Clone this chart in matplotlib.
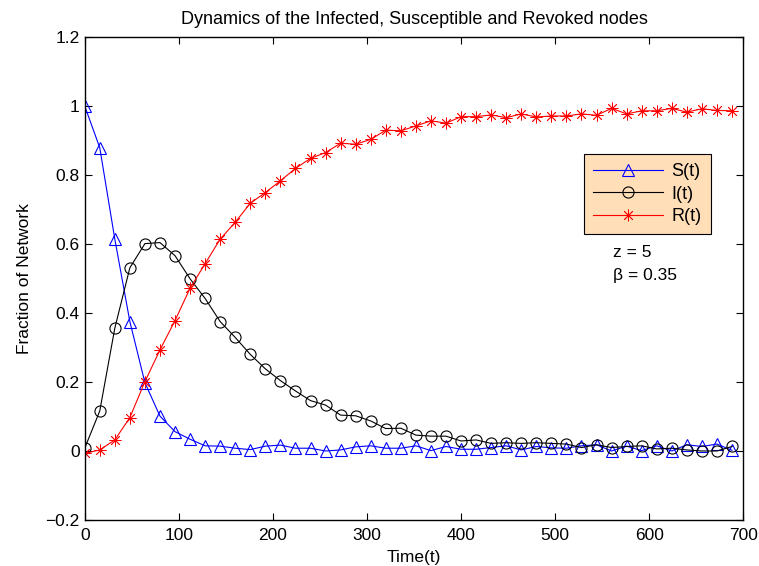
import numpy as np
import matplotlib
matplotlib.use('Agg')
import matplotlib.pyplot as plt

plt.rcParams['font.family'] = ['Liberation Sans', 'DejaVu Sans']

t = np.arange(0, 689, 16)

S = [1.0, 0.879, 0.614, 0.375, 0.198, 0.101, 0.056, 0.034, 0.015, 0.014,
     0.008, 0.004, 0.014, 0.017, 0.008, 0.008, 0.0, 0.003, 0.012, 0.015,
     0.008, 0.008, 0.015, 0.001, 0.013, 0.005, 0.005, 0.010, 0.015, 0.003,
     0.013, 0.009, 0.008, 0.015, 0.018, 0.0, 0.014, 0.001, 0.015, 0.0,
     0.018, 0.013, 0.020, 0.002]

I = [0.008, 0.116, 0.356, 0.531, 0.601, 0.604, 0.566, 0.499, 0.442, 0.375,
     0.329, 0.280, 0.238, 0.204, 0.174, 0.146, 0.133, 0.104, 0.102, 0.087,
     0.065, 0.066, 0.046, 0.043, 0.043, 0.029, 0.032, 0.022, 0.024, 0.022,
     0.024, 0.022, 0.020, 0.010, 0.018, 0.010, 0.013, 0.015, 0.006, 0.008,
     0.003, 0.0, 0.0, 0.013]

R = [-0.007, 0.003, 0.032, 0.097, 0.201, 0.293, 0.378, 0.472, 0.543, 0.614,
     0.663, 0.718, 0.749, 0.783, 0.819, 0.848, 0.865, 0.892, 0.889, 0.903,
     0.930, 0.928, 0.942, 0.957, 0.950, 0.969, 0.969, 0.974, 0.966, 0.977,
     0.968, 0.971, 0.971, 0.977, 0.973, 0.993, 0.977, 0.986, 0.986, 0.993,
     0.982, 0.992, 0.987, 0.986]

fig = plt.figure(figsize=(7.59, 5.66), dpi=100)
ax = fig.add_axes([0.1116, 0.0813, 0.8677, 0.8534])

ax.plot(t, S, color='b', marker='^', lw=0.8, ms=9, mfc='none', mew=0.8, label='S(t)')
ax.plot(t, I, color='k', marker='o', lw=0.8, ms=8, mfc='none', mew=0.8, label='I(t)')
ax.plot(t, R, color='r', marker=(8, 2, 0), lw=0.8, ms=8.5, mew=0.6, label='R(t)')

ax.set_xlim(0, 700)
ax.set_ylim(-0.2, 1.2)
ax.set_xticks(range(0, 701, 100))
ax.set_yticks([-0.2, 0, 0.2, 0.4, 0.6, 0.8, 1.0, 1.2])
ax.set_yticklabels(['\u22120.2', '0', '0.2', '0.4', '0.6', '0.8', '1', '1.2'])
ax.tick_params(direction='in', top=True, right=True, labelsize=12.5, length=5)
ax.tick_params(axis='x', pad=6)
for s in ax.spines.values():
    s.set_linewidth(1.0)

ax.set_title('Dynamics of the Infected, Susceptible and Revoked nodes', fontsize=13, pad=9)
ax.set_xlabel('Time(t)', fontsize=12.5, labelpad=5)
ax.set_ylabel('Fraction of Network', fontsize=12.5, labelpad=10)

leg = ax.legend(loc='upper left', bbox_to_anchor=(0.758, 0.758), fontsize=13,
                fancybox=False, framealpha=1, edgecolor='black',
                handlelength=3.9, handletextpad=0.45, borderpad=0.5,
                labelspacing=0.32, borderaxespad=0)
leg.get_frame().set_facecolor('#FFDEB8')
leg.get_frame().set_linewidth(0.8)

ax.text(0.802, 0.553, 'z = 5', transform=ax.transAxes, fontsize=12.5, va='center')
ax.text(0.802, 0.507, '\u03b2 = 0.35', transform=ax.transAxes, fontsize=12.5, va='center')

fig.savefig('out.png', dpi=100)
